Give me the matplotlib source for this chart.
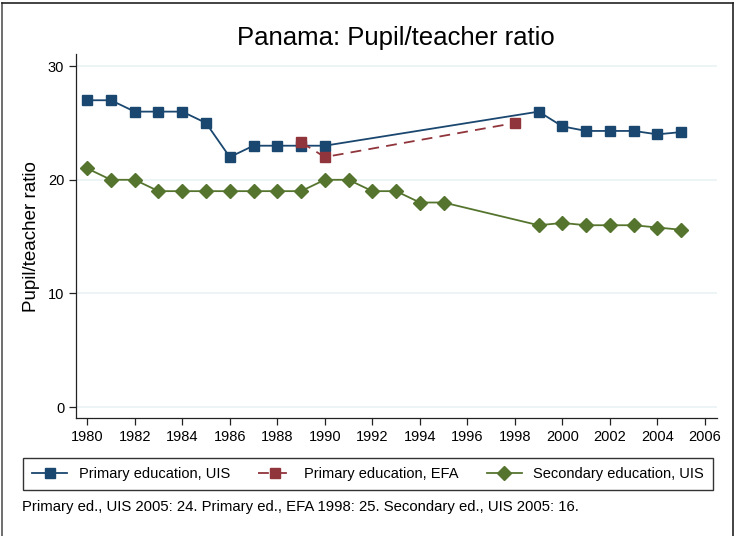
import numpy as np
import matplotlib.pyplot as plt
from matplotlib.lines import Line2D

plt.rcParams['font.family'] = ['Liberation Sans', 'DejaVu Sans']

# Primary education, UIS
years_uis = [1980, 1981, 1982, 1983, 1984, 1985, 1986, 1987, 1988, 1989, 1990,
             1999, 2000, 2001, 2002, 2003, 2004, 2005]
primary_uis = [27, 27, 26, 26, 26, 25, 22, 23, 23, 23, 23,
               26.0, 24.7, 24.3, 24.3, 24.3, 24.0, 24.2]

# Primary education, EFA
years_efa = [1989, 1990, 1998]
primary_efa = [23.3, 22, 25]

# Secondary education, UIS
years_sec = [1980, 1981, 1982, 1983, 1984, 1985, 1986, 1987, 1988, 1989, 1990,
             1991, 1992, 1993, 1994, 1995, 1999, 2000, 2001, 2002, 2003, 2004, 2005]
secondary_uis = [21, 20, 20, 19, 19, 19, 19, 19, 19, 19, 20,
                 20, 19, 19, 18, 18, 16.0, 16.2, 16.0, 16.0, 16.0, 15.8, 15.6]

labels = ['Primary education, UIS', 'Primary education, EFA', 'Secondary education, UIS']
colors = ['#1a476f', '#90353b', '#55752f']

fig = plt.figure(figsize=(7.36, 5.36), dpi=100)
ax = fig.add_axes([0.1033, 0.2201, 0.8707, 0.6789])

ax.plot(years_uis, primary_uis, color=colors[0], lw=1.3, marker='s', ms=7, label=labels[0], zorder=3)
ax.plot(years_efa, primary_efa, color=colors[1], lw=1.3, ls=(0, (6, 4)), marker='s', ms=7, label=labels[1], zorder=3)
ax.plot(years_sec, secondary_uis, color=colors[2], lw=1.3, marker='D', ms=7.5, label=labels[2], zorder=3)

ax.set_xlim(1979.53, 2006.5)
ax.set_ylim(-0.97, 31.06)
ax.set_xticks(np.arange(1980, 2007, 2))
ax.set_yticks([0, 10, 20, 30])
ax.grid(axis='y', color='#eaf2f3', lw=1.2)
ax.set_axisbelow(True)
for s in ['top', 'right']:
    ax.spines[s].set_visible(False)
for s in ['left', 'bottom']:
    ax.spines[s].set_color('#222222')
    ax.spines[s].set_linewidth(0.9)
ax.tick_params(direction='out', length=5, width=0.9, labelsize=10.5, color='#222222')
ax.set_ylabel('Pupil/teacher ratio', fontsize=13.5, labelpad=6)

fig.text(0.538, 0.929, 'Panama: Pupil/teacher ratio', ha='center', va='center', fontsize=18.5)

handles = [
    Line2D([], [], color=colors[0], lw=1.3, marker='s', ms=7),
    Line2D([], [], color=colors[1], lw=1.3, ls=(0, (6, 4)), marker='s', ms=7),
    Line2D([], [], color=colors[2], lw=1.3, marker='D', ms=7.5),
]
leg = fig.legend(handles, labels, ncol=3, loc='center', bbox_to_anchor=(0.5, 0.1155),
                 frameon=True, fancybox=False, edgecolor='black', fontsize=10.5,
                 handlelength=2.4, columnspacing=1.9, borderpad=0.6, handletextpad=0.8)
leg.get_frame().set_linewidth(1.0)

fig.text(0.03, 0.054, 'Primary ed., UIS 2005: 24. Primary ed., EFA 1998: 25. Secondary ed., UIS 2005: 16.',
         ha='left', va='center', fontsize=10.7)

# outer border of graph region
fig.add_artist(Line2D([0.003, 0.003], [0, 0.995], color='#555555', lw=1.2, transform=fig.transFigure))
fig.add_artist(Line2D([0.003, 0.996], [0.995, 0.995], color='#222222', lw=1.2, transform=fig.transFigure))
fig.add_artist(Line2D([0.996, 0.996], [0, 0.995], color='#222222', lw=1.2, transform=fig.transFigure))

fig.savefig('out.png', dpi=100)
